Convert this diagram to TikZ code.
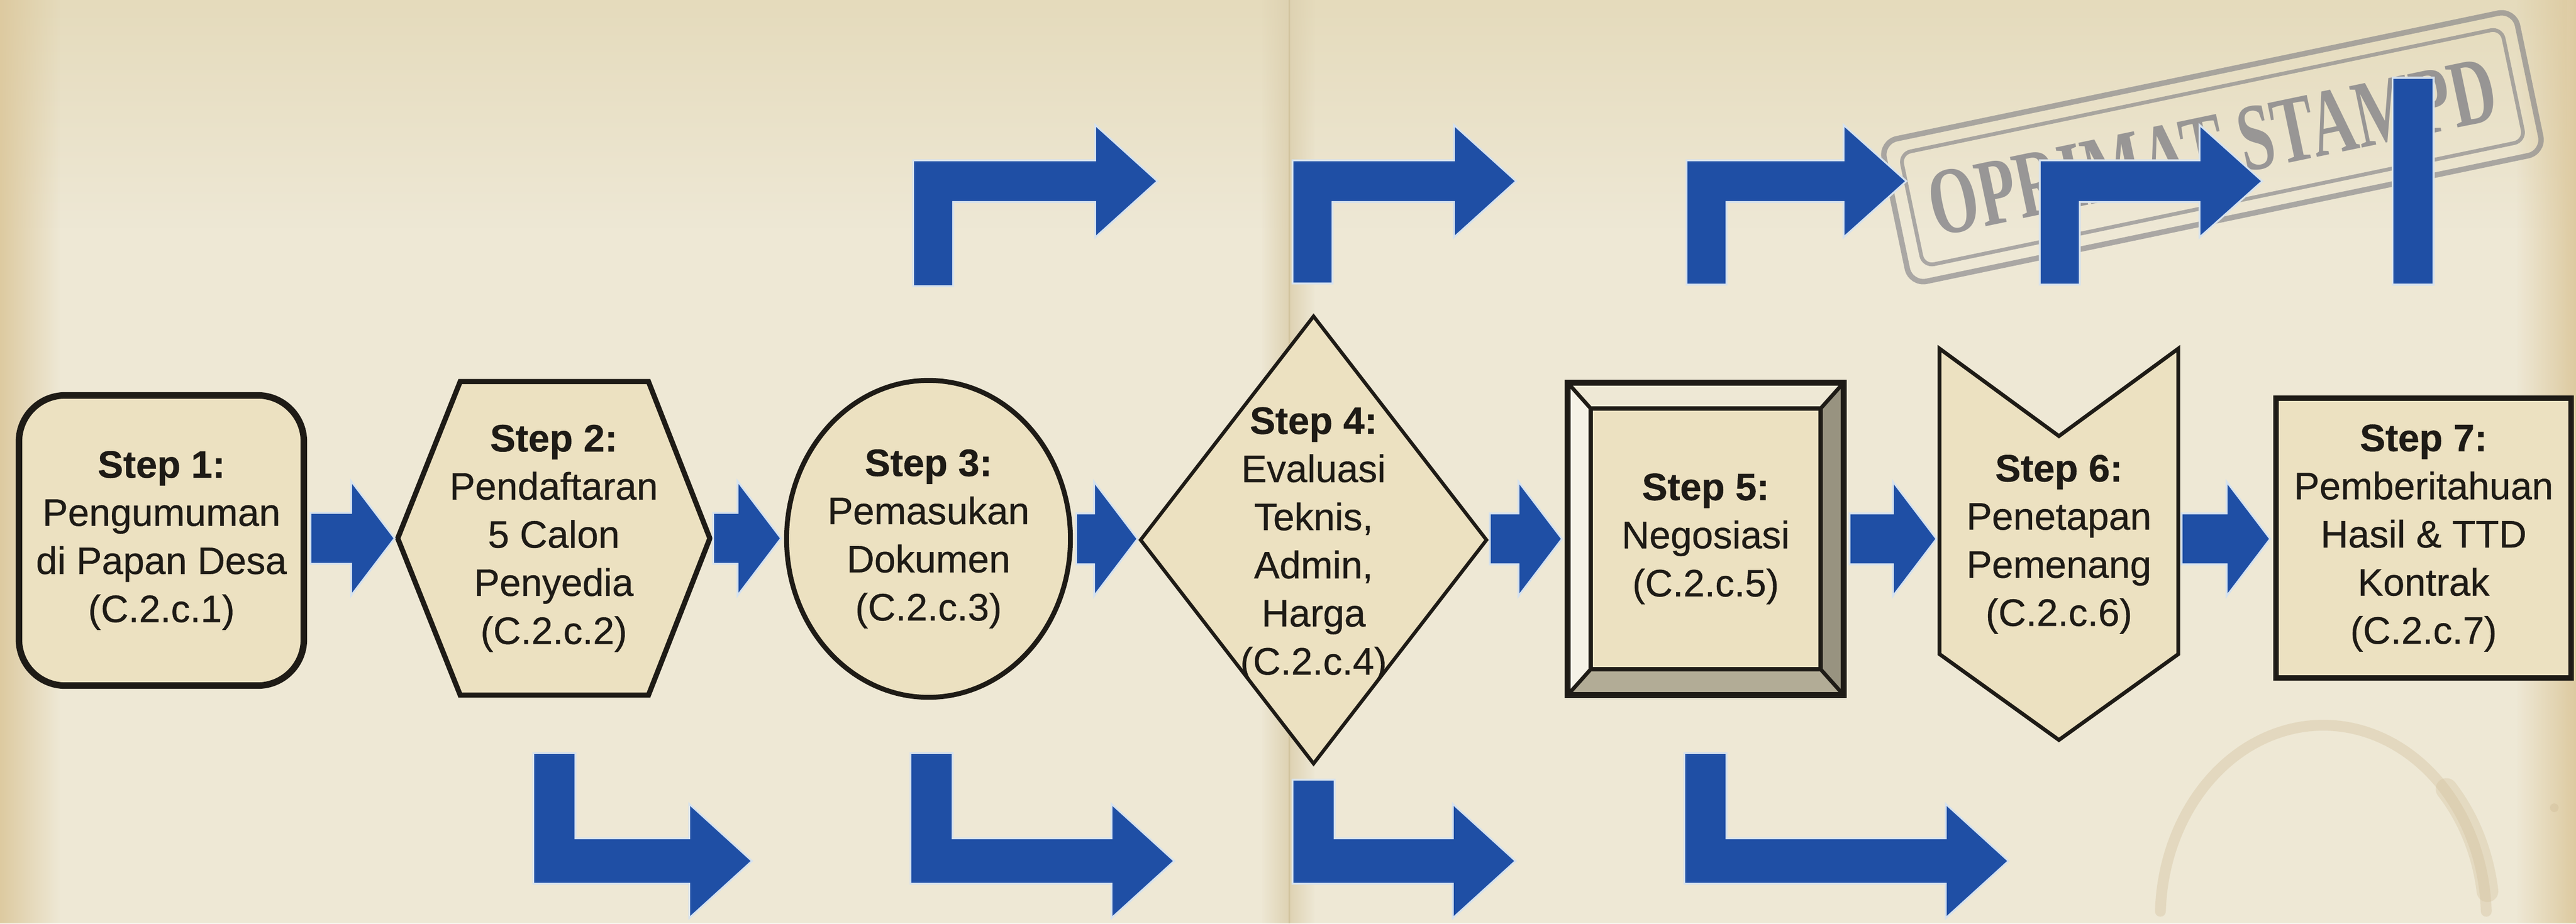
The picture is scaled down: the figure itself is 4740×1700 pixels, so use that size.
\documentclass[tikz,border=0pt]{standalone}
\usepackage{fontspec}
\usepackage{graphicx}
\setmainfont{Liberation Sans}
\newfontfamily\medfont[FakeBold=0.6]{Liberation Sans}
\newfontfamily\stampfont{Liberation Serif}
\usetikzlibrary{calc,fadings}
\tikzfading[name=fadetoright, left color=transparent!0, right color=transparent!100]
\tikzfading[name=fadetoleft, left color=transparent!100, right color=transparent!0]
\tikzfading[name=fadetobottom, top color=transparent!0, bottom color=transparent!100]
\pgfdeclarelayer{paper}
\pgfdeclarelayer{shapes}
\pgfsetlayers{paper,shapes,main}
\definecolor{bg}{RGB}{238,232,213}
\definecolor{edgetan}{RGB}{221,202,160}
\definecolor{toptint}{RGB}{229,219,188}
\definecolor{boxfill}{RGB}{236,225,193}
\definecolor{flowblue}{RGB}{31,79,165}
\definecolor{halo}{RGB}{214,226,238}
\definecolor{ink}{RGB}{30,27,22}
\definecolor{bevlight}{RGB}{245,242,231}
\definecolor{bevtop}{RGB}{238,232,213}
\definecolor{bevright}{RGB}{152,147,128}
\definecolor{bevbottom}{RGB}{178,172,150}
\definecolor{stampgray}{RGB}{125,125,132}
\definecolor{stain}{RGB}{212,194,158}
\definecolor{foldcol}{RGB}{222,210,178}
\definecolor{foldline}{RGB}{210,196,160}
\tikzset{
  stepnode/.style={inner sep=0pt, outer sep=0pt, align=center, text=ink,
    font=\medfont\fontsize{20}{25.2}\selectfont},
  outline/.style={draw=ink, fill=boxfill, line join=miter},
  arrowshape/.style={fill=flowblue, preaction={draw=halo, line width=0.07cm, line join=miter}},
}
\newcommand\flowarrow[2]{%
  \path[arrowshape] let \p1=(#1), \p2=(#2) in
    (\x1+0.08cm,\y1+0.45cm) -- (\x2-0.84cm,\y1+0.45cm) -- (\x2-0.84cm,\y1+1cm)
    -- (\x2-0.08cm,\y1) -- (\x2-0.84cm,\y1-1cm) -- (\x2-0.84cm,\y1-0.45cm)
    -- (\x1+0.08cm,\y1-0.45cm) -- cycle;}
\newcommand\bentup[4]{%
  \path[arrowshape] (#1,#4) -- (#1,297) -- (#2,297) -- (#2,234) -- (#3,333.5)
    -- (#2,433) -- (#2,370) -- ({#1+70},370) -- ({#1+70},#4) -- cycle;}
\newcommand\bentdown[4]{%
  \path[arrowshape] (#1,#4) -- ({#1+74},#4) -- ({#1+74},1545) -- (#2,1545)
    -- (#2,1484) -- (#3,1585) -- (#2,1686) -- (#2,1625) -- (#1,1625) -- cycle;}
\begin{document}
\begin{tikzpicture}[x=0.01cm, y=-0.01cm]
\useasboundingbox (0,0) rectangle (4740,1700);
% ---------- paper ----------
\begin{pgfonlayer}{paper}
  \fill[bg] (0,0) rectangle (4740,1700);
  \fill[toptint, path fading=fadetobottom] (0,0) rectangle (4740,420);
  \fill[edgetan, path fading=fadetoright] (0,0) rectangle (110,1700);
  \fill[edgetan, path fading=fadetoleft] (4630,0) rectangle (4740,1700);
  \fill[foldcol, path fading=fadetoleft] (2320,0) rectangle (2372,1700);
  \fill[foldcol, path fading=fadetoright] (2372,0) rectangle (2420,1700);
  \draw[foldline, line width=0.03cm] (2372,0) -- (2372,1700);
  % coffee ring
  \draw[stain, opacity=0.4, line width=0.2cm, line cap=round]
    plot[domain=182:358, samples=80] ({4275+300*cos(\x)}, {1690+355*sin(\x)});
  \draw[stain, opacity=0.35, line width=0.4cm, line cap=round]
    plot[domain=318:352, samples=30] ({4275+305*cos(\x)}, {1690+355*sin(\x)});
  \fill[stain, opacity=0.5] (4700,1487) circle [radius=0.08cm];
  % stamp
  \node[draw=stampgray, draw opacity=0.6, line width=0.1cm, rounded corners=0.3cm,
        minimum width=11.9cm, minimum height=2.68cm, rotate=11.8] (stampout) at (4071,271) {};
  \node[draw=stampgray, draw opacity=0.6, line width=0.07cm, rounded corners=0.2cm,
        minimum width=11.3cm, minimum height=2.12cm, rotate=11.8, text=stampgray,
        text opacity=0.75, font=\stampfont\bfseries\fontsize{50}{50}\selectfont]
        (stampin) at (4071,271) {\scalebox{0.66}[1]{OPRIMAT STAMPD}};
\end{pgfonlayer}
% ---------- step nodes (text) ----------
\node[stepnode, minimum width=5.36cm, minimum height=5.46cm] (s1) at (297,995)
  {\textbf{Step 1:}\\Pengumuman\\di Papan Desa\\(C.2.c.1)};
\node[stepnode, minimum width=5.74cm, minimum height=5.87cm] (s2) at (1019,991)
  {\textbf{Step 2:}\\Pendaftaran\\5 Calon\\Penyedia\\(C.2.c.2)};
\node[stepnode, minimum width=5.31cm, minimum height=5.92cm] (s3) at (1708.5,992)
  {\textbf{Step 3:}\\Pemasukan\\Dokumen\\(C.2.c.3)};
\node[stepnode, minimum width=6.36cm, minimum height=8.23cm] (s4) at (2417,1003)
  {\textbf{Step 4:}\\Evaluasi\\Teknis,\\Admin,\\Harga\\(C.2.c.4)};
\node[stepnode, minimum width=5.17cm, minimum height=5.84cm] (s5) at (3138.5,992)
  {\textbf{Step 5:}\\Negosiasi\\(C.2.c.5)};
\node[stepnode, minimum width=4.39cm, minimum height=7.20cm] (s6) at (3788.5,1002)
  {\textbf{Step 6:}\\Penetapan\\Pemenang\\(C.2.c.6)};
\node[stepnode, minimum width=5.53cm, minimum height=5.25cm] (s7) at (4459.5,990.5)
  {\textbf{Step 7:}\\Pemberitahuan\\Hasil \& TTD\\Kontrak\\(C.2.c.7)};
% ---------- shapes ----------
\begin{pgfonlayer}{shapes}
  \draw[outline, line width=0.12cm, rounded corners=0.85cm]
    ($(s1.south west)+(6,-6)$) rectangle ($(s1.north east)+(-6,6)$);
  \draw[outline, line width=0.095cm]
    (s2.west) -- ($(s2.north west)+(115,5)$) -- ($(s2.north east)+(-113,5)$) -- (s2.east)
    -- ($(s2.south east)+(-113,-5)$) -- ($(s2.south west)+(115,-5)$) -- cycle;
  \draw[outline, line width=0.09cm] (s3.center) ellipse [x radius=2.61cm, y radius=2.915cm];
  \draw[outline, line width=0.065cm] ($(s4.north)+(0,-9)$) -- ($(s4.east)+(0,-9)$)
    -- ($(s4.south)+(0,-9)$) -- ($(s4.west)+(0,-9)$) -- cycle;
  % step 5 bevelled frame
  \coordinate (s5a) at ($(s5.north west)+(5,5)$);
  \coordinate (s5b) at ($(s5.north east)+(-5,5)$);
  \coordinate (s5c) at ($(s5.south east)+(-5,-5)$);
  \coordinate (s5d) at ($(s5.south west)+(5,-5)$);
  \coordinate (s5e) at ($(s5a)+(42,47)$);
  \coordinate (s5f) at ($(s5b)+(-42,47)$);
  \coordinate (s5g) at ($(s5c)+(-42,-47)$);
  \coordinate (s5h) at ($(s5d)+(42,-47)$);
  \fill[bevtop] (s5a) -- (s5b) -- (s5f) -- (s5e) -- cycle;
  \fill[bevlight] (s5a) -- (s5e) -- (s5h) -- (s5d) -- cycle;
  \fill[bevright] (s5b) -- (s5c) -- (s5g) -- (s5f) -- cycle;
  \fill[bevbottom] (s5d) -- (s5c) -- (s5g) -- (s5h) -- cycle;
  \draw[outline, line width=0.085cm] (s5e) rectangle (s5g);
  \draw[ink, line width=0.07cm] (s5a) -- (s5e) (s5b) -- (s5f) (s5c) -- (s5g) (s5d) -- (s5h);
  \draw[ink, line width=0.11cm, line join=miter] (s5a) rectangle (s5c);
  % step 6 chevron
  \draw[outline, line width=0.07cm]
    (s6.north west) -- ($(s6.north)+(0,161)$) -- (s6.north east) -- ($(s6.south east)+(0,-158)$)
    -- (s6.south) -- ($(s6.south west)+(0,-158)$) -- cycle;
  \draw[outline, line width=0.1cm]
    ($(s7.south west)+(5,-5)$) rectangle ($(s7.north east)+(-5,5)$);
\end{pgfonlayer}
% ---------- main flow connectors ----------
\flowarrow{s1.east |- s2.west}{s2.west}
\flowarrow{s2.east}{s3.west}
\flowarrow{s3.east}{s4.west |- s3.east}
\flowarrow{s4.east |- s5.west}{s5.west}
\flowarrow{s5.east}{s6.west}
\flowarrow{s6.east |- s5.east}{s7.west}
% ---------- upper bent arrows ----------
\bentup{1682}{2017}{2127}{525}
\bentup{2380}{2677}{2787}{520}
\bentup{3105}{3394}{3505}{522}
\bentup{3755}{4049}{4160}{522}
\path[arrowshape] (4404,145) rectangle (4476,522);
% ---------- lower bent arrows ----------
\bentdown{983}{1270}{1381}{1388}
\bentdown{1677}{2047}{2158}{1388}
\bentdown{2380}{2675}{2786}{1437}
\bentdown{3101}{3582}{3693}{1388}
\end{tikzpicture}
\end{document}
